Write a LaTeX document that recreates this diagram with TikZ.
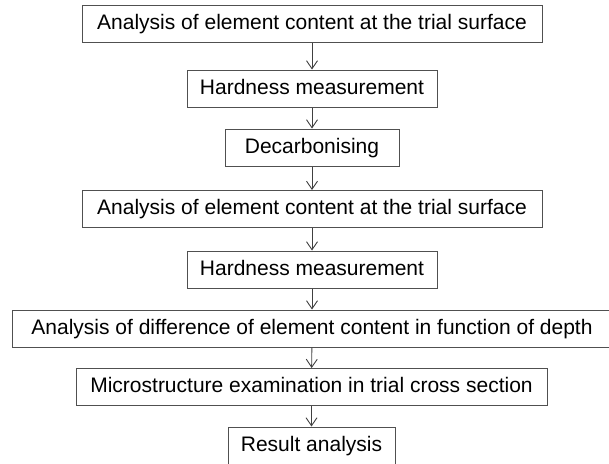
\documentclass[tikz,border=0pt]{standalone}
\usepackage{fontspec}
\setmainfont{Liberation Sans}
\usetikzlibrary{arrows.meta}
\definecolor{boxline}{HTML}{505050}
\definecolor{arrline}{HTML}{404040}
\tikzset{
  stepbox/.style={draw=boxline, line width=1pt, rectangle, inner sep=0pt,
    minimum height=37pt, text height=15pt, text depth=4pt,
    font=\fontsize{21}{25}\selectfont, text=black, anchor=center},
  flow/.style={draw=arrline, line width=0.9pt, -{Straight Barb[length=8pt,width=11pt,line width=0.9pt]}}
}
\begin{document}
\begin{tikzpicture}[x=1pt,y=-1pt]
\useasboundingbox (0,0) rectangle (609,463);
\node[stepbox, minimum width=460pt] (a) at (312,23.5) {Analysis of element content at the trial surface};
\node[stepbox, minimum width=250pt] (b) at (312,88.5) {Hardness measurement};
\node[stepbox, minimum width=174pt] (c) at (312,147.5) {Decarbonising};
\node[stepbox, minimum width=460pt] (d) at (312,209) {Analysis of element content at the trial surface};
\node[stepbox, minimum width=250pt] (e) at (312,269.5) {Hardness measurement};
\node[stepbox, minimum width=600pt] (f) at (312,328.5) {Analysis of difference of element content in function of depth};
\node[stepbox, minimum width=471pt] (g) at (311.5,387) {Microstructure examination in trial cross section};
\node[stepbox, minimum width=167pt] (h) at (311.5,445.5) {Result analysis};
\draw[flow] (a) -- (b);
\draw[flow] (b) -- (c);
\draw[flow] (c) -- (d);
\draw[flow] (d) -- (e);
\draw[flow] (e) -- (f);
\draw[flow] (f) -- (g);
\draw[flow] (g) -- (h);
\end{tikzpicture}
\end{document}
